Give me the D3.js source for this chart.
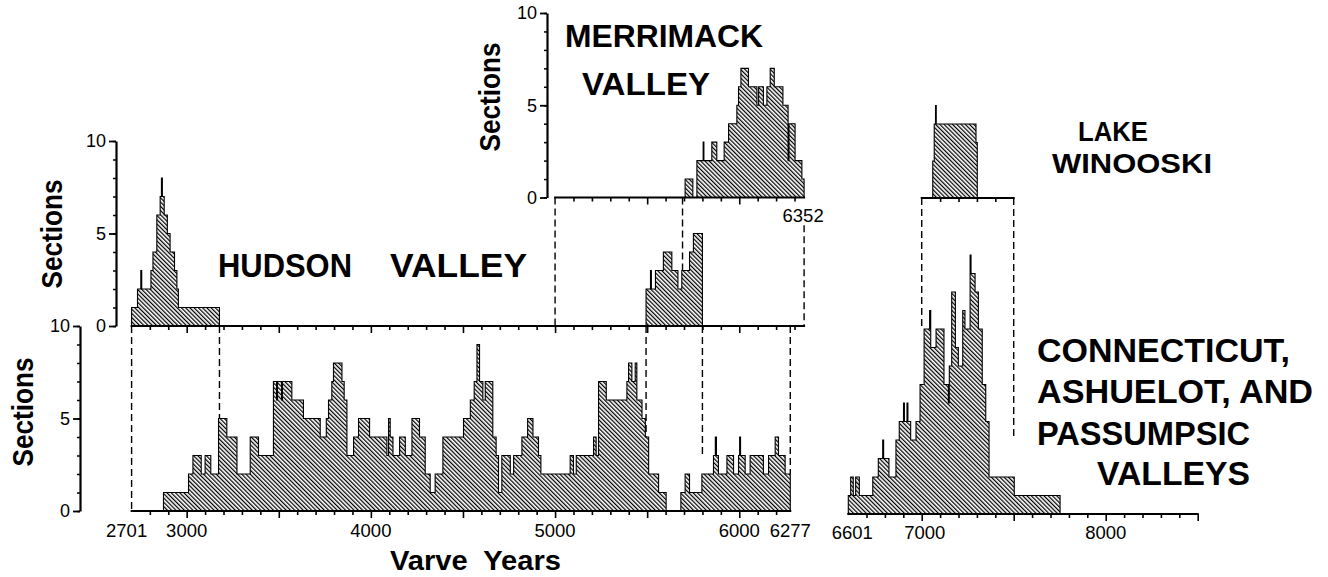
<!DOCTYPE html>
<html><head><meta charset="utf-8">
<script src="https://cdn.jsdelivr.net/npm/d3@7"></script>
<style>
html,body{margin:0;padding:0;background:#fff;}
svg{display:block;}
text{font-family:"Liberation Sans",Arial,Helvetica,sans-serif;fill:#000;}
</style></head><body>
<svg id="chart" width="1328" height="577"></svg>
<script>
// ---------- DATA (bin start year, number of sections) ----------
const hudsonStart = [2701,2733,2751,2756,2806,2817,2838,2856,2863,2868,2878,2895,2910,2934,2947,2955,3178,5494,5518,5523,5545,5588,5634,5667,5688,5730,5751];
const hudsonCount = [1,2,3,2,3,4,6,7,8,7,6,5,4,3,2,1,0,2,3,2,3,4,3,2,3,4,5];
const hudsonEnd = 5800;

const merrStart = [5706,5748,5770,5804,5808,5851,5878,5918,5942,5987,5996,6009,6050,6096,6105,6131,6150,6168,6190,6237,6265,6270,6303,6340];
const merrCount = [1,0,2,3,2,3,2,3,4,5,6,7,6,5,6,5,6,7,6,5,2,4,2,1];
const merrEnd = 6352;

const winStart = [7060,7068,7075,7079,7295];
const winCount = [2,4,5,4,3];
const winEnd = 7302;

const mainStart = [2701,2874,3010,3034,3079,3100,3131,3173,3218,3273,3345,3390,3471,3488,3493,3515,3520,3571,3634,3725,3758,3770,3788,3797,3843,3855,3870,3906,3933,3993,4087,4096,4105,4120,4156,4187,4223,4264,4295,4322,4349,4391,4503,4540,4561,4576,4590,4608,4621,4662,4680,4693,4711,4757,4775,4820,4851,4880,4910,4923,5082,5100,5115,5209,5223,5236,5278,5390,5399,5417,5435,5444,5472,5490,5508,5562,5603,5683,5706,5730,5797,5860,5870,5876,5887,5933,5969,5996,6002,6007,6032,6059,6131,6159,6195,6213,6249];
const mainCount = [0,1,2,3,2,3,2,5,4,2,4,3,7,6,7,6,7,6,5,4,5,6,7,8,7,6,3,4,5,4,3,5,4,3,4,3,5,4,2,1,2,4,5,6,7,9,7,6,7,4,3,1,3,2,3,4,5,4,3,2,3,2,3,4,3,7,6,7,8,7,8,6,5,4,2,1,0,1,2,1,2,3,4,3,2,3,2,3,4,3,2,3,2,3,4,3,2];
const mainEnd = 6277;

const ctStart = [6601,6614,6628,6641,6661,6734,6764,6788,6793,6822,6860,6878,6901,6906,6920,6925,6940,6969,6991,7013,7043,7049,7078,7121,7145,7150,7163,7183,7199,7223,7235,7263,7268,7290,7308,7329,7348,7366,7503];
const ctCount = [1,2,1,2,1,2,3,4,3,2,4,5,6,5,6,5,4,5,7,10,11,9,10,7,6,8,12,9,8,11,10,14,13,12,10,7,5,2,1];
const ctEnd = 7752;

const yTicks = [0,5,10];
const leftTickLabels = ["2701","3000","4000","5000","6000","6277"];
const rightTickLabels = ["6601","7000","8000"];

// ---------- SCALES ----------
const svg = d3.select("#chart");
const xL = d3.scaleLinear().domain([2701,6352]).range([131.6,804.1]);
const xR = d3.scaleLinear().domain([6601,8500]).range([848.3,1197.7]);
const yMain = d3.scaleLinear().domain([0,10]).range([511,326]);
const yHud  = d3.scaleLinear().domain([0,10]).range([326,141]);
const yMerr = d3.scaleLinear().domain([0,10]).range([197.5,13]);
const yWin  = d3.scaleLinear().domain([0,10]).range([198,13]);
const yCT   = d3.scaleLinear().domain([0,10]).range([514,329]);

// hatch pattern
const defs = svg.append("defs");
const pat = defs.append("pattern").attr("id","hatch").attr("patternUnits","userSpaceOnUse")
  .attr("width",3).attr("height",3).attr("patternTransform","rotate(-45)");
pat.append("rect").attr("width",3).attr("height",3).attr("fill","#fff");
pat.append("rect").attr("width",1.25).attr("height",3).attr("fill","#000");

function hist(starts, counts, end, x, y){
  const pts = starts.map((s,i)=>[s,counts[i]]);
  pts.push([end, counts[counts.length-1]]);
  const area = d3.area().curve(d3.curveStepAfter).x(d=>x(d[0])).y0(y(0)).y1(d=>y(d[1]));
  svg.append("path").datum(pts).attr("d",area)
    .attr("fill","url(#hatch)").attr("stroke","#000").attr("stroke-width",1.1).attr("stroke-linejoin","miter");
}

hist(hudsonStart,hudsonCount,hudsonEnd,xL,yHud);
hist(merrStart,merrCount,merrEnd,xL,yMerr);
hist(winStart,winCount,winEnd,xR,yWin);
hist(mainStart,mainCount,mainEnd,xL,yMain);
hist(ctStart,ctCount,ctEnd,xR,yCT);

// ---------- AXES ----------
function xAxis(scale, y, from, to, ticks){
  const g = svg.append("g");
  const minor = ticks.filter(t=>t%500!==0), major = ticks.filter(t=>t%500===0);
  [[minor,4],[major,7]].forEach(([vals,len])=>{
    g.append("g").attr("transform",`translate(0,${y})`)
      .call(d3.axisBottom(scale).tickValues(vals).tickSize(len).tickFormat(""))
      .call(a=>a.select(".domain").remove())
      .selectAll("line").attr("stroke","#000").attr("stroke-width",1.6);
  });
  g.append("line").attr("x1",scale(from)-1).attr("x2",scale(to)+1).attr("y1",y).attr("y2",y)
    .attr("stroke","#000").attr("stroke-width",2.2);
}
xAxis(xL, yHud(0), 2701, 6352, d3.range(2800,6400,100));
xAxis(xL, yMain(0), 2701, 6277, d3.range(2800,6300,100));
xAxis(xL, yMerr(0), 5000, 6352, d3.range(5100,6400,100));
xAxis(xR, yWin(0), 7000, 7500, d3.range(7100,7500,100));
xAxis(xR, yCT(0), 6601, 8500, d3.range(6700,8600,100));

function yAxis(scale, x){
  const g = svg.append("g").attr("transform",`translate(${x},0)`);
  g.append("g").call(d3.axisLeft(scale).tickValues(d3.range(0,11)).tickSize(3).tickSizeOuter(0).tickFormat(""))
    .call(a=>a.select(".domain").attr("stroke-width",2.2))
    .selectAll("line").attr("stroke-width",1.5);
  g.append("g").call(d3.axisLeft(scale).tickValues(yTicks).tickSize(7).tickSizeOuter(0).tickPadding(3))
    .call(a=>a.select(".domain").remove())
    .call(a=>a.selectAll("line").attr("stroke-width",1.8))
    .call(a=>a.selectAll("text").attr("font-size",18).attr("font-family","'Liberation Sans',Arial,sans-serif"));
}
yAxis(yMain, 80);
yAxis(yHud, 116);
yAxis(yMerr, 547);

// x tick labels
const lblY = 537;
leftTickLabels.forEach(t=>{
  const v = +t;
  svg.append("text").attr("x", xL(v) + (v===2701?-5:0)).attr("y", lblY)
    .attr("text-anchor","middle").attr("font-size",18.5).text(t);
});
rightTickLabels.forEach(t=>{
  const v = +t;
  svg.append("text").attr("x", xR(v) + (v===6601?4:(v===7000?3:0))).attr("y", 539)
    .attr("text-anchor","middle").attr("font-size",18.5).text(t);
});
svg.append("text").attr("x", xL(6352)-1).attr("y", 222).attr("text-anchor","middle").attr("font-size",18.5).text("6352");

// ---------- DASHED CONNECTORS ----------
function dash(x, y1, y2){
  svg.append("line").attr("x1",x).attr("x2",x).attr("y1",y1).attr("y2",y2)
    .attr("stroke","#000").attr("stroke-width",1.4).attr("stroke-dasharray","7,4");
}
dash(xL(2701), yHud(0), yMain(0));
dash(xL(3178), yHud(0), yMain(5));
dash(xL(5494), yHud(0), yMain(4));
dash(xL(5800), yHud(0), yMain(3));
dash(xL(6277), yHud(0), yMain(2));
dash(xL(5000), yMerr(0), yHud(0));
dash(xL(5692), yMerr(0), yHud(3));
dash(xL(6352), yMerr(-1.5), yHud(0));
dash(xR(7000), yWin(0), yCT(10));
dash(xR(7500), yWin(0), yCT(4));

// ---------- TITLES ----------
function title(txt, x, y, size, len){
  svg.append("text").attr("x",x).attr("y",y).attr("font-size",size).attr("font-weight","bold")
    .attr("textLength",len).attr("lengthAdjust","spacingAndGlyphs").text(txt);
}
title("HUDSON", 218, 277, 34, 134);
title("VALLEY", 390, 277, 34, 137);
title("MERRIMACK", 565, 47, 31, 198);
title("VALLEY", 582, 95, 32, 128);
title("LAKE", 1078, 141, 28, 70);
title("WINOOSKI", 1052, 173, 28, 160);
title("CONNECTICUT,", 1037, 362, 33, 253);
title("ASHUELOT, AND", 1037, 403, 33, 276);
title("PASSUMPSIC", 1037, 445, 33, 213);
title("VALLEYS", 1097, 485, 33, 153);

function sections(x, y){
  svg.append("text").attr("transform",`translate(${x},${y}) rotate(-90)`).attr("text-anchor","middle")
    .attr("font-size",29).attr("font-weight","bold").attr("textLength",109).attr("lengthAdjust","spacingAndGlyphs")
    .text("Sections");
}
sections(33, 412);
sections(62, 234);
sections(500, 97);

svg.append("text").attr("x",390).attr("y",570).attr("font-size",27).attr("font-weight","bold")
  .attr("textLength",171).attr("lengthAdjust","spacingAndGlyphs").style("white-space","pre").text("Varve  Years");
</script>
</body></html>
